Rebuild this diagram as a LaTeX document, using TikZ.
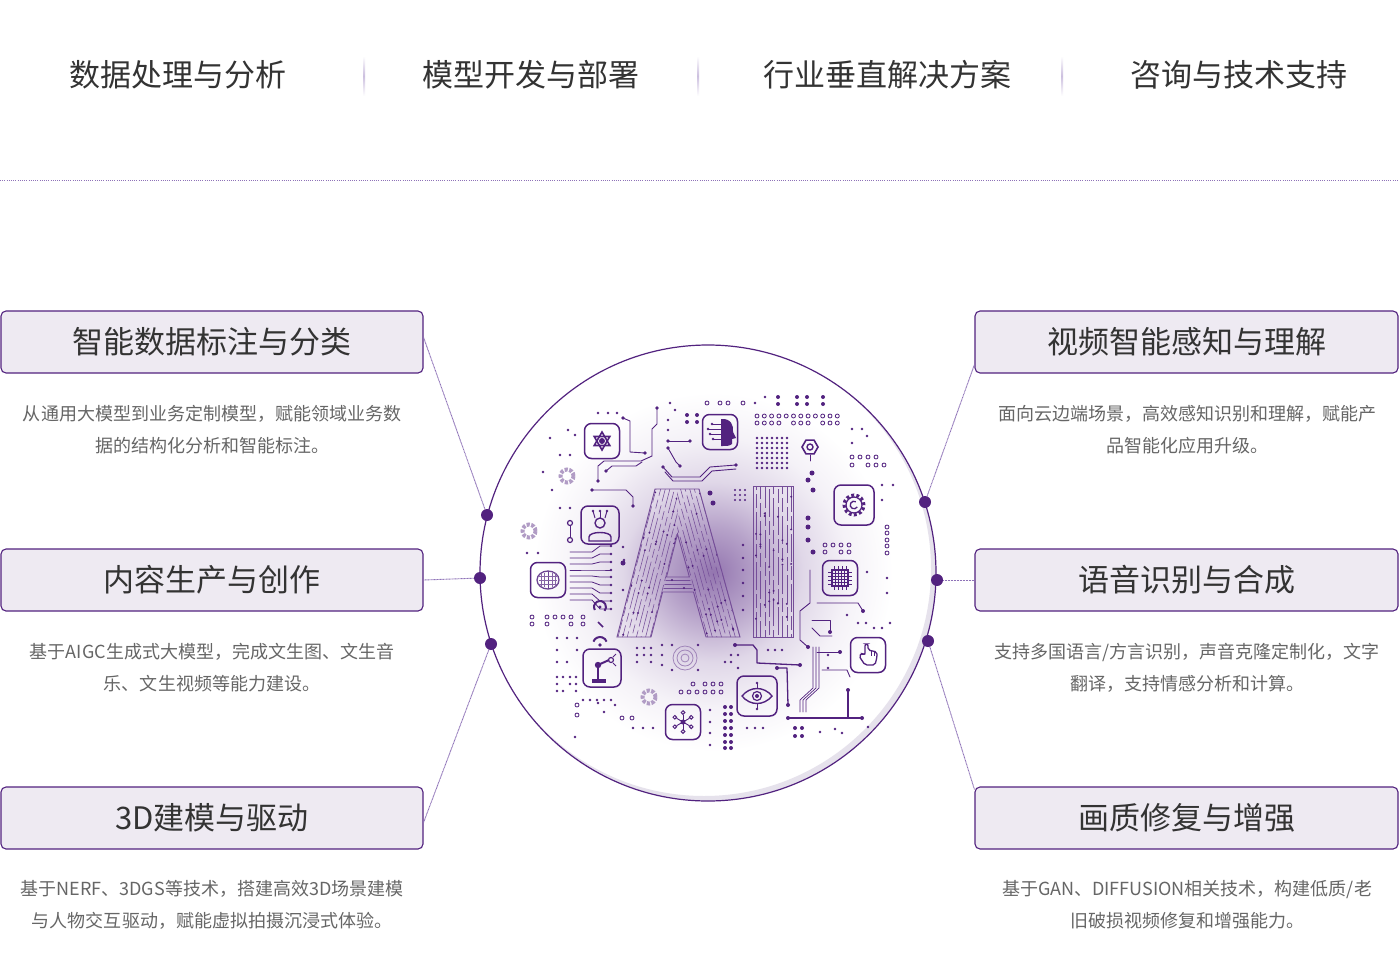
\documentclass[tikz,border=0pt]{standalone}
\usepackage{fontspec}
\setmainfont{Noto Sans CJK SC}
\usetikzlibrary{calc}
\definecolor{pu}{HTML}{52227F}
\definecolor{pul}{HTML}{8E72B8}
\definecolor{boxfill}{HTML}{EEEAF2}
\definecolor{titc}{HTML}{333333}
\definecolor{descc}{HTML}{666666}
\definecolor{shadowc}{HTML}{E6E2EC}
\pgfdeclareradialshading{aiglow}{\pgfpoint{0bp}{0bp}}{color(0bp)=(pu!62); color(7bp)=(pu!42); color(14bp)=(pu!18); color(21bp)=(pu!6); color(28bp)=(white); color(50bp)=(white)}
\tikzset{
  catbox/.style={draw=pu, line width=1.1pt, fill=boxfill, rounded corners=5pt,
    minimum width=422pt, minimum height=62pt, inner sep=0pt, text=titc,
    font=\fontsize{31}{31}\selectfont},
  desctext/.style={text=descc, font=\fontsize{18}{32}\selectfont, align=center, inner sep=0pt},
  headtext/.style={text=titc, font=\fontsize{31}{31}\selectfont, inner sep=0pt},
  link/.style={draw=pul, line width=0.9pt, dash pattern=on 1pt off 0.5pt},
  hub/.style={circle, fill=pu, minimum size=12pt, inner sep=0pt},
  iconbox/.style={draw=pu, line width=1.5pt, rounded corners=7pt, minimum size=35pt, inner sep=0pt},
  tr/.style={draw=pu, line width=0.9pt, line join=round, line cap=round},
  cir/.style={draw=pu!80, line width=0.55pt},
  ring/.style={draw=pu, line width=0.8pt},
}
\begin{document}
\begin{tikzpicture}[x=1pt,y=-1pt]
\useasboundingbox (0,0) rectangle (1399,961);
\fill[white] (0,0) rectangle (1399,961);

% ---------- header ----------
\node[headtext] (k1) at (178,75) {数据处理与分析};
\node[headtext] (k2) at (531,75) {模型开发与部署};
\node[headtext] (k3) at (887,75) {行业垂直解决方案};
\node[headtext] (k4) at (1239,75) {咨询与技术支持};
\foreach \sx in {364,698,1062}{
  \shade[top color=white, bottom color=white, middle color=pul!45] (\sx-1,56) rectangle (\sx+1,96);
}
\draw[pul, line width=0.8pt, dash pattern=on 0.8pt off 1.4pt] (0,180) -- (1399,180);

% ---------- circle ----------
\begin{scope}
  \clip (708,573) circle (228pt);
  \begin{scope}[shift={(713,572)}, scale=6.4]
    \pgflowlevelsynccm
    \pgfuseshading{aiglow}
  \end{scope}
  \draw[shadowc, line width=6pt] (704,569) circle (230pt);
\end{scope}
\draw[pu, line width=1.2pt] (708,573) circle (228pt);

% ---------- letters AI ----------
\pgfmathsetseed{11}
\begin{scope}
  \clip (617,637)--(655,489)--(677,489)--(677.5,534)--(651,637)--cycle;
  \foreach \k in {0,...,7}{
    \pgfmathsetmacro\ph{\k*6}
    \draw[cir, dash pattern=on 22pt off 4pt on 9pt off 4pt, dash phase=\ph pt] (617+\k*4.6,641) -- ++(40.3,-156.8);
    \foreach \j in {1,2,3}{
      \pgfmathsetmacro\rr{rnd}
      \fill[pu] (617+\k*4.6+40.3*\rr, 641-156.8*\rr) circle (1.1pt);
    }
  }
\end{scope}
\begin{scope}
  \clip (677,489)--(699,489)--(740,637)--(706,637)--(677.5,534)--cycle;
  \foreach \k in {0,...,8}{
    \pgfmathsetmacro\ph{\k*7}
    \draw[cir, dash pattern=on 25pt off 4pt on 11pt off 4pt, dash phase=\ph pt] (741-\k*4.6,641) -- ++(-43.4,-156.8);
    \foreach \j in {1,2,3}{
      \pgfmathsetmacro\rr{rnd}
      \fill[pu] (741-\k*4.6-43.4*\rr, 641-156.8*\rr) circle (1.1pt);
    }
  }
\end{scope}
\begin{scope}
  \clip (666.5,577)--(689.4,577)--(693.5,592)--(662.6,592)--cycle;
  \foreach \yy in {580,584,588}{ \draw[cir] (660,\yy) -- (696,\yy); }
  \fill[pu] (672,580) circle (1.1pt) (684,588) circle (1.1pt);
\end{scope}
\begin{scope}
  \clip (753,486) rectangle (793,637);
  \foreach \k in {0,...,8}{
    \pgfmathsetmacro\ph{\k*9}
    \draw[cir, dash pattern=on 28pt off 4pt on 14pt off 4pt, dash phase=\ph pt] (756+\k*4.4,640) -- (756+\k*4.4,483);
    \foreach \j in {1,2,3}{
      \pgfmathsetmacro\rr{rnd}
      \fill[pu] (756+\k*4.4, 640-157*\rr) circle (1.1pt);
    }
  }
\end{scope}
\draw[pu!80, line width=0.9pt] (617,637)--(655,489)--(699,489)--(740,637)--(706,637)--(693.5,592)--(662.6,592)--(651,637)--cycle
  (666.5,577)--(677.5,534)--(689.4,577)--cycle;
\draw[pu!80, line width=0.9pt] (753,486) rectangle (793,637);

% ---------- icon boxes ----------
\node[iconbox] (i1) at (602,441) {};
\node[iconbox] (i2) at (720,432) {};
\node[iconbox, minimum size=40pt] (i3) at (854,505) {};
\node[iconbox, minimum size=38pt] (i4) at (600,525) {};
\node[iconbox] (i5) at (548,580) {};
\node[iconbox] (i6) at (840,578) {};
\node[iconbox, minimum size=38pt] (i7) at (602,668) {};
\node[iconbox] (i8) at (868,655) {};
\node[iconbox, minimum size=40pt] (i9) at (757,696) {};
\node[iconbox] (i10) at (683,722) {};

% star
\draw[pu, line width=1.6pt] (602,441) +(90:9pt) -- +(210:9pt) -- +(330:9pt) -- cycle;
\draw[pu, line width=1.6pt] (602,441) +(270:9pt) -- +(30:9pt) -- +(150:9pt) -- cycle;
\fill[pu] (602,441) circle (3pt);
% head profile
\fill[pu] (721,419) .. controls (731,418) and (734,426) .. (733,432) -- (736,438) -- (732,439) -- (732,444) .. controls (730,446) and (726,446) .. (723,446) -- (721,446) -- cycle;
\foreach \yy/\xx in {424/712,429/708,434/710,439/713}{
  \draw[pu, line width=0.8pt] (\xx,\yy) -- (721,\yy);
  \fill[pu] (\xx,\yy) circle (1.3pt);
}
% gear
\draw[pu, line width=3pt, dash pattern=on 2.8pt off 2.4pt] (854,505) circle (10pt);
\draw[pu, line width=1.3pt] (854,505) circle (8pt);
\draw[pu, line width=1.3pt] (854,505) ++(60:3.8pt) arc (60:330:3.8pt);
% head with antennas
\draw[pu, line width=1.4pt] (600,523) circle (5pt);
\draw[pu, line width=1.4pt] (589,541) -- (589,537) .. controls (589,531) and (611,531) .. (611,537) -- (611,541) -- cycle;
\foreach \xx/\tx in {595/593,600/600,605/607}{
  \draw[pu, line width=1pt] (\xx,518) -- (\tx,511);
  \fill[pu] (\tx,511) circle (1.4pt);
}
% brain
\draw[pu!85, line width=1.3pt] (548,580) ellipse (11pt and 9pt);
\draw[pu!85, line width=1pt] (548,571) -- (548,589);
\foreach \xx in {541,544,552,555}{ \draw[pu!70, line width=0.7pt] (\xx,573) -- (\xx,587); }
\foreach \yy in {576,580,584}{ \draw[pu!70, line width=0.7pt] (539,\yy) -- (557,\yy); }
% chip
\draw[pu, line width=1.2pt] (832,570) rectangle (848,586);
\foreach \v in {835,838,841,844}{ \draw[pu, line width=0.5pt] (\v,570) -- (\v,586); }
\foreach \v in {573,576,579,582}{ \draw[pu, line width=0.5pt] (832,\v) -- (848,\v); }
\foreach \v in {834,838,842,846}{ \draw[pu, line width=0.8pt] (\v,566) -- (\v,570) (\v,586) -- (\v,590); }
\foreach \v in {572,576,580,584}{ \draw[pu, line width=0.8pt] (828,\v) -- (832,\v) (848,\v) -- (852,\v); }
% robot arm
\fill[pu] (592,679) rectangle (606,683);
\draw[pu, line width=2.5pt] (598,679) -- (598,665);
\draw[pu, line width=2pt] (598,665) -- (609,660);
\fill[pu] (598,665) circle (3.2pt);
\draw[pu, line width=1.2pt] (611,660) circle (2.5pt);
\draw[pu, line width=1pt] (613,657) -- (616,654) (613,663) -- (616,666);
% hand
\draw[pu, line width=1.3pt, rounded corners=2pt] (865,644) -- (865,655) -- (862,653) -- (859,656) -- (865,665) -- (875,665) -- (877,657) -- (877,652) -- (868,650) -- (868,644) -- cycle;
\draw[pu, line width=0.8pt] (871,651) -- (871,656) (874,652) -- (874,656);
% eye
\draw[pu, line width=1.4pt] (742,696) .. controls (750,686) and (764,686) .. (772,696) .. controls (764,706) and (750,706) .. (742,696) -- cycle;
\draw[pu, line width=1.2pt] (757,696) circle (4.5pt);
\fill[pu] (757,696) circle (2pt);
\draw[pu, line width=0.9pt] (757,683) -- (757,689) (757,703) -- (757,709);
\fill[pu] (757,683) circle (1.3pt) (757,709) circle (1.3pt);
% network
\fill[pu] (683,722) circle (2.5pt);
\foreach \a in {30,90,150,210,270,330}{
  \draw[pu, line width=0.9pt] (683,722) -- +(\a:7.5pt);
  \draw[pu, line width=1pt, fill=white] (683,722) +(\a:9.5pt) circle (1.8pt);
}

% ---------- traces ----------
\draw[tr] (623,418) -- (630,421) -- (630,452) -- (645,453);
\draw[tr] (657,408) -- (657,424) -- (652,429) -- (652,456) -- (641,461) -- (604,461) -- (598,466) -- (598,481);
\draw[tr] (606,471) -- (612,466) -- (636,466) -- (642,462);
\draw[tr] (592,490) -- (626,490) -- (633,497) -- (633,506);
\draw[tr] (668,441) -- (690,441);
\draw[tr] (668,448) -- (676,462) -- (680,466);
\draw[tr] (663,467) -- (672,477) -- (700,477) -- (710,467) -- (736,465);
\draw[tr] (665,472) -- (673,481) -- (702,481) -- (712,471) -- (736,469);
\foreach \p in {(623,418),(657,408),(645,453),(598,481),(606,471),(592,490),(633,506),(668,441),(690,441),(668,448),(680,466),(663,467),(736,465)}{
  \fill[pu] \p circle (1.8pt);
}
\foreach \y/\e in {552/-6,558/-4,564/-2,570/0,576/1,582/3,588/5,594/7,600/9}{
  \draw[tr, line width=0.8pt] (570,\y) -- (592,\y) -- (600,\y+\e) -- (611,\y+\e);
  \fill[pu] (611,\y+\e) circle (1.3pt);
}
\draw[tr] (810,570) -- (810,603) -- (800,611) -- (800,640) -- (808,647);
\draw[tr] (817,603) -- (858,603) -- (863,611);
\draw[tr] (812,620) -- (830,620) -- (830,632);
\draw[tr] (812,628) -- (820,636) -- (832,636);
\draw[tr, line width=1.3pt] (735,645) -- (753,645) -- (757,650) -- (757,663) -- (800,665);
\draw[tr, line width=1.3pt] (777,668) -- (787,668) -- (788,705);
\foreach \o in {0,3,6}{
  \draw[tr, line width=0.7pt] (813+\o,647) -- (813+\o,688) -- (800+\o,700) -- (800+\o,712);
}
\draw[tr] (817,652) -- (840,652);
\draw[tr] (822,670) -- (847,670) -- (850,677);
\draw[tr, line width=1.3pt] (788,718) -- (862,718);
\draw[tr, line width=1.3pt] (848,690) -- (848,718);
\foreach \p in {(735,645),(800,665),(777,668),(788,705),(840,652),(863,611),(830,632),(848,690),(862,718),(788,718),(808,647)}{
  \fill[pu] \p circle (2pt);
}

% ---------- dots and rings ----------
\foreach \p in {(765,397),(755,403),(598,413),(608,413),(617,413),(670,403),(675,410),(668,420),(668,430),
  (550,438),(543,472),(552,490),(560,508),(570,508),(560,455),(570,455),(568,430),(575,435),
  (852,429),(862,429),(867,436),(852,443),(882,485),(893,485),(882,500),(527,553),(538,553),
  (867,572),(887,578),(887,593),(847,615),(868,727),(710,710),(710,722),(710,733),(710,745),
  (633,728),(643,728),(653,728),(747,728),(755,728),(763,728),(575,737),(598,703),(604,712),
  (858,623),(866,623),(874,628),(882,628),(890,623),(557,638),(567,638),(577,638),(557,650),(577,650),
  (557,662),(567,662),(662,645),(662,655),(662,665),(672,645),(672,670),(698,645),(698,670),
  (768,650),(775,650),(782,650),(828,655),(828,668),(623,547),(624,560),(623,590),
  (743,545),(743,558),(743,570),(743,583),(743,596),(743,610),(835,729),(820,732),(842,733),
  (557,677),(563,677),(570,677),(576,677),(557,684),(570,684),(576,684),(557,691),(563,691),(576,691),
  (583,700),(590,700),(597,700),(604,700),(611,700),(615,705),(731,655),(738,655),(725,662),(731,662),(738,668),
  (637,648),(644,648),(651,648),(637,655),(644,655),(651,655),(637,662),(651,662)}{
  \fill[pu] \p circle (1.4pt);
}
\foreach \p in {(710,493),(713,503),(623,563),(808,518),(808,527),(812,473),(808,480),(813,490),(808,540),(813,552)}{
  \fill[pu] \p circle (2.5pt);
}
\foreach \p in {(687,415),(697,415),(687,422),(697,422),(797,397),(807,397),(797,404),(807,404),(778,397),(778,404),(823,397),(823,404),
  (725,707),(731,707),(725,714),(731,714),(725,721),(731,721),(725,728),(731,728),(725,735),(731,735),(725,742),(731,742),(725,748),(731,748),
  (795,728),(802,728),(795,736),(802,736)}{
  \fill[pu] \p circle (2pt);
}
\foreach \i in {0,...,6}{ \foreach \j in {0,...,6}{ \fill[pu] (757+\i*5,438+\j*5) circle (1.3pt); } }
\foreach \i in {0,...,2}{ \foreach \j in {0,...,2}{ \fill[pu] (735+\i*5,490+\j*5) circle (1.2pt); } }
\foreach \i in {0,...,11}{ \draw[ring] (757+\i*7.3,416) circle (2pt); }
\foreach \i in {0,1,2,3,5,6,7,9,10,11}{ \draw[ring] (757+\i*7.3,423) circle (2pt); }
\foreach \p in {(707,403),(720,403),(728,403),(743,403),
  (852,457),(860,457),(868,457),(876,457),(852,465),(868,465),(876,465),(884,465),
  (887,527),(887,533),(887,540),(887,546),(887,553),
  (825,545),(833,545),(841,545),(849,545),(825,552),(841,552),(849,552),
  (693,684),(705,684),(713,684),(721,684),(681,692),(689,692),(697,692),(705,692),(713,692),(721,692),
  (532,617),(532,624),(547,617),(555,617),(563,617),(571,617),(547,624),(571,624),(583,617),(583,624),
  (577,705),(577,715),(622,718),(632,718)}{
  \draw[ring] \p circle (2pt);
}
% dumbbell
\draw[ring, line width=1.2pt] (570,523) circle (2.5pt) (570,540) circle (2.5pt);
\draw[tr] (570,525.5) -- (570,537.5);
% donut rings
\foreach \p in {(567,476),(529,531),(649,697)}{
  \draw[pu!45, line width=4pt, dash pattern=on 3.2pt off 1.5pt] \p circle (6.5pt);
}
% target
\foreach \r in {4,8,12}{ \draw[pu!55, line width=0.8pt] (685,658) circle (\r pt); }
% arcs
\draw[pu, line width=2pt] (600,607) ++(210:6pt) arc (210:-40:6pt);
\fill[pu] (600,607) circle (1.6pt);
\draw[pu, line width=2pt] (600,644) ++(160:7pt) arc (160:20:7pt);
\fill[pu] (600,645) circle (1.8pt);
\draw[pu, line width=1.5pt] (598,622) -- (603,627);
% nut
\draw[pu, line width=1.6pt] (810,447) +(0:8pt) -- +(60:8pt) -- +(120:8pt) -- +(180:8pt) -- +(240:8pt) -- +(300:8pt) -- cycle;
\draw[pu, line width=1.4pt] (810,447) circle (3pt);
\draw[tr] (810,455) -- (810,461);

% ---------- hubs ----------
\node[hub] (h1) at (487,515) {};
\node[hub] (h2) at (480,578) {};
\node[hub] (h3) at (491,644) {};
\node[hub] (h4) at (925,502) {};
\node[hub] (h5) at (937,580) {};
\node[hub] (h6) at (928,641) {};

% ---------- category boxes ----------
\node[catbox] (t1) at (212,342) {智能数据标注与分类};
\node[catbox] (t2) at (212,580) {内容生产与创作};
\node[catbox] (t3) at (212,818) {3D建模与驱动};
\node[catbox, minimum width=423pt] (r1) at (1186.5,342) {视频智能感知与理解};
\node[catbox, minimum width=423pt] (r2) at (1186.5,580) {语音识别与合成};
\node[catbox, minimum width=423pt] (r3) at (1186.5,818) {画质修复与增强};

\node[desctext] (d1) at (212,430) {从通用大模型到业务定制模型，赋能领域业务数\\据的结构化分析和智能标注。};
\node[desctext] (d2) at (212,668) {基于AIGC生成式大模型，完成文生图、文生音\\乐、文生视频等能力建设。};
\node[desctext] (d3) at (212,905) {基于NERF、3DGS等技术，搭建高效3D场景建模\\与人物交互驱动，赋能虚拟拍摄沉浸式体验。};
\node[desctext] (e1) at (1187,430) {面向云边端场景，高效感知识别和理解，赋能产\\品智能化应用升级。};
\node[desctext] (e2) at (1187,668) {支持多国语言/方言识别，声音克隆定制化，文字\\翻译，支持情感分析和计算。};
\node[desctext] (e3) at (1187,905) {基于GAN、DIFFUSION相关技术，构建低质/老\\旧破损视频修复和增强能力。};

% ---------- links ----------
\coordinate (a1) at ($(t1.north east)+(0,27)$);
\coordinate (a3) at ($(t3.north east)+(0,36)$);
\coordinate (b1) at ($(r1.south west)+(0,-9)$);
\coordinate (b3) at ($(r3.north west)+(0,3)$);
\draw[link] (a1) -- (h1);
\draw[link] (t2.east) -- (h2);
\draw[link] (a3) -- (h3);
\draw[link] (b1) -- (h4);
\draw[link] (r2.west) -- (h5);
\draw[link] (b3) -- (h6);
\end{tikzpicture}
\end{document}
